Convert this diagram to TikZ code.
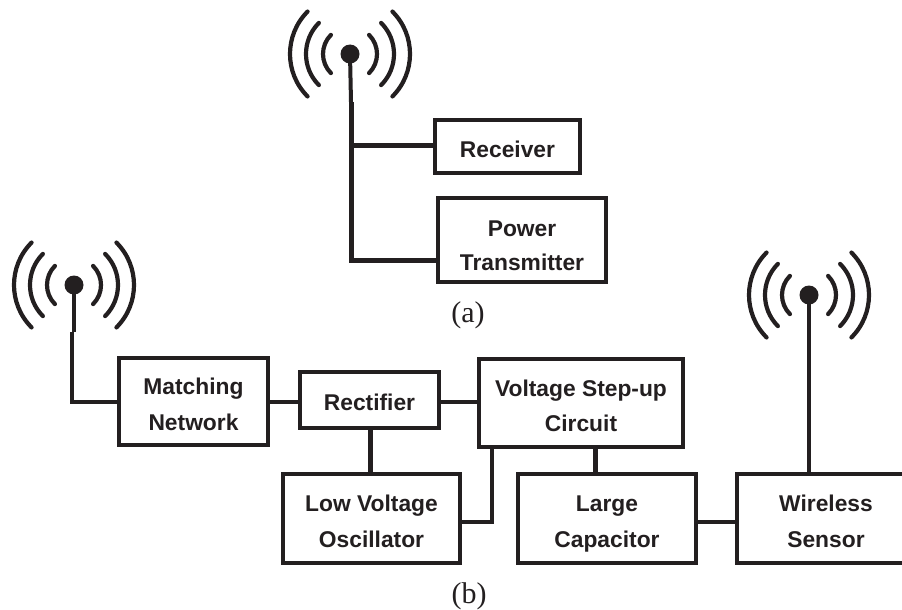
\documentclass[tikz,border=0pt]{standalone}
\usepackage{fontspec}
\setmainfont{Liberation Sans}
\newfontfamily\capfont{Liberation Serif}
\definecolor{ink}{HTML}{231F20}
\newcommand{\lntop}{\rule{0pt}{29pt}}
\newcommand{\lnbot}{\rule[-7pt]{0pt}{7pt}}
\newcommand{\lnrc}{\rule[-7pt]{0pt}{34pt}}
\newcommand{\lnpw}{\rule{0pt}{32pt}}
\newcommand{\lnpb}{\rule[-6pt]{0pt}{6pt}}
\tikzset{
  blocktext/.style={inner sep=0pt,align=center,text=ink,
    font=\fontsize{22.8}{35.5}\selectfont\bfseries},
  block/.style={blocktext,draw=ink,line width=4pt,fill=white},
  wire/.style={draw=ink,line width=4.5pt,line cap=butt,line join=miter},
  stem/.style={draw=ink,line width=4pt},
  wave/.style={draw=ink,line width=4.2pt,line cap=round},
  adot/.style={circle,fill=ink,inner sep=0pt,minimum size=19pt},
  caption/.style={font=\capfont\fontsize{30}{34}\selectfont,text=ink,inner sep=0pt,anchor=base},
}
\newcommand{\aerial}[3]{%
  \node[adot] (#3) at (#1,#2) {};
  \foreach \r in {27,44,60}{
    \draw[wave] ({#1-\r*cos(45)},{#2-\r*sin(45)}) arc[start angle=135,end angle=225,radius=\r pt];
    \draw[wave] ({#1+\r*cos(45)},{#2-\r*sin(45)}) arc[start angle=45,end angle=-45,radius=\r pt];
  }%
}
\begin{document}
\begin{tikzpicture}[x=1pt,y=-1pt]
\useasboundingbox (0,0) rectangle (902,610);
\aerial{350}{54}{aa}
\aerial{74}{285}{ab}
\aerial{809}{295}{ac}
\newcommand{\blk}[6]{\node[block,minimum width=#4pt,minimum height=#5pt] (#1) at (#2,#3) {#6};}
\blk{rx}{507.5}{146.5}{145}{53}{Receiver\lntop\lnbot}
\node[block,minimum width=168pt,minimum height=84pt,font=\fontsize{22.8}{34}\selectfont\bfseries] (ptx) at (522,240) {Power\lnpw\\Transmitter\lnpb};
\blk{mn}{193.5}{401.5}{149}{87}{Matching\lntop\\Network\lnbot}
\blk{rc}{369.5}{400}{139}{56}{Rectifier\lnrc}
\blk{lvo}{371.5}{518.5}{177}{89}{Low Voltage\lntop\\Oscillator\lnbot}
\blk{vs}{581}{403}{204}{88}{Voltage Step-up\lntop\\Circuit\lnbot}
\blk{lc}{607}{518.5}{178}{89}{Large\lntop\\Capacitor\lnbot}
\node[blocktext] (ws) at (826,518.5) {Wireless\lntop\\Sensor\lnbot};
\coordinate (wst) at (902,474);
\coordinate (wsa) at (737,474);
\coordinate (wsb) at (737,563);
\coordinate (wsc) at (902,563);
\draw[draw=ink,line width=4pt,line join=miter] (wst) -- (wsa) -- (wsb) -- (wsc);
% connectors
\coordinate (ja) at (351,102);
\coordinate (jr) at (351,145);
\coordinate (jb) at (351,260);
\coordinate (jl) at (72,332);
\coordinate (jm) at (72,402);
\coordinate (jv) at (492,522);
\draw[stem] (aa.center) -- (ja);
\draw[wire,line width=5pt] (ja) -- (jr) -- (jb) -- (ptx.west |- jb);
\draw[wire,line width=5pt] (jr) -- (rx.west |- jr);
\draw[stem] (ab.center) -- (74,332);
\draw[wire] (jl) -- (jm) -- (mn.west |- jm);
\draw[wire] (mn.east |- jm) -- (rc.west |- jm);
\draw[wire] (rc.east |- jm) -- (vs.west |- jm);
\draw[wire,line width=5pt] (rc.south -| 370,0) -- (lvo.north -| 370,0);
\draw[wire,line width=5pt] (vs.south -| 595,0) -- (lc.north -| 595,0);
\draw[wire] (vs.south -| 492,0) -- (jv) -- (lvo.east |- jv);
\draw[wire] (lc.east |- jv) -- (wsa |- jv);
\draw[wire] (ac.center) -- (ac.center |- wsa);
\node[caption] (capa) at (468,322) {(a)};
\node[caption] (capb) at (469,603) {(b)};
\end{tikzpicture}
\end{document}
